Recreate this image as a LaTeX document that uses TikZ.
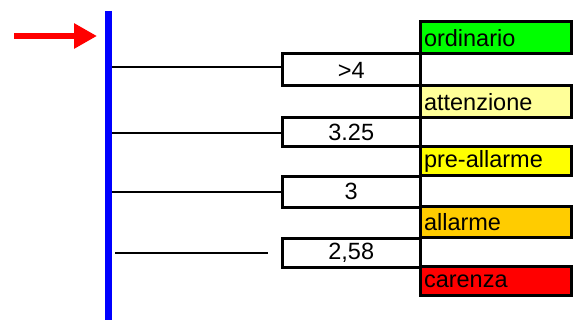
\documentclass[tikz,border=0pt]{standalone}
\usepackage{fontspec}
\setmainfont{Liberation Sans}
\usetikzlibrary{arrows.meta,calc}

\definecolor{ordgreen}{RGB}{0,255,0}
\definecolor{attyellow}{RGB}{255,255,153}
\definecolor{preyellow}{RGB}{255,255,0}
\definecolor{allorange}{RGB}{255,204,0}
\definecolor{carred}{RGB}{255,0,0}

\tikzset{
  valbox/.style={draw,line width=3pt,minimum width=137.5pt,inner sep=0pt,
    font=\fontsize{23.5}{27}\selectfont},
  levbox/.style={draw,line width=3pt,text width=143pt,align=left,inner xsep=4pt,inner ysep=0pt,
    font=\fontsize{23.5}{27}\selectfont},
  tick/.style={line width=1.6pt}
}

\begin{document}
\begin{tikzpicture}[x=1pt,y=-1pt]
\useasboundingbox (0,0) rectangle (579,320);

% level bar
\coordinate (bartop) at (108.8,11);
\coordinate (barbot) at (108.8,320);
\draw[blue,line width=7pt] (bartop) -- (barbot);

% arrow
\coordinate (arrtail) at (14,36);
\coordinate (arrhead) at (97,36);
\draw[red,line width=6.5pt,-{Triangle[length=23pt,width=24pt]}] (arrtail) -- (arrhead);

% levels
\node[levbox,fill=ordgreen,minimum height=32pt] (ord) at (495.5,38) {ordinario};
\node[levbox,fill=attyellow,minimum height=32pt] (att) at (495.5,102) {attenzione};
\node[levbox,fill=preyellow,minimum height=29pt] (pre) at (495.5,161.5) {pre-allarme};
\node[levbox,fill=allorange,minimum height=31pt] (all) at (495.5,222.5) {allarme};
\node[levbox,fill=carred,minimum height=29pt] (car) at (495.5,281.5) {carenza};

% thresholds
\node[valbox,minimum height=32pt] (v1) at (351.25,70) {>4};
\node[valbox,minimum height=29pt] (v2) at (351.25,132.5) {3.25};
\node[valbox,minimum height=31pt] (v3) at (351.25,191.75) {3};
\node[valbox,minimum height=29pt] (v4) at (351.25,252.6) {2,58};

\coordinate (t1) at (112,67);
\coordinate (t2) at (112,133);
\coordinate (t3) at (112,192);
\coordinate (t4) at (115,253);
\coordinate (e4) at (268,253);

\draw[tick] (t1) -- (t1 -| v1.west);
\draw[tick] (t2) -- (t2 -| v2.west);
\draw[tick] (t3) -- (t3 -| v3.west);
\draw[tick] (t4) -- (e4);

\end{tikzpicture}
\end{document}
